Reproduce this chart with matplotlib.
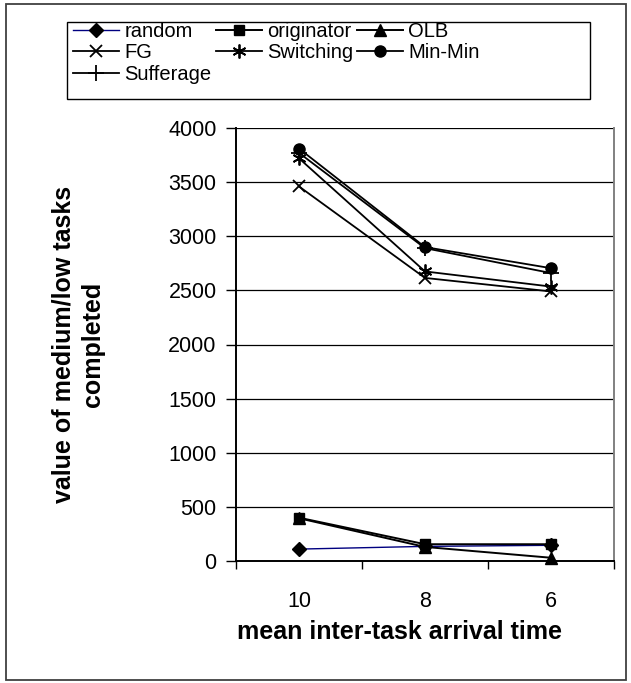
import matplotlib
matplotlib.use("Agg")
import matplotlib.pyplot as plt
from matplotlib.patches import Rectangle
from matplotlib.ticker import FixedLocator, NullFormatter

plt.rcParams['font.family'] = ['Liberation Sans', 'DejaVu Sans']

categories = ["10", "8", "6"]
series_names = ["random", "originator", "OLB", "FG", "Switching", "Min-Min", "Sufferage"]
random_vals = [110, 135, 145]
originator_vals = [400, 155, 155]
olb_vals = [395, 130, 30]
fg_vals = [3460, 2615, 2490]
switching_vals = [3720, 2675, 2535]
minmin_vals = [3810, 2900, 2705]
sufferage_vals = [3770, 2890, 2660]
yticks = [0, 500, 1000, 1500, 2000, 2500, 3000, 3500, 4000]

W, H = 631, 683
fig = plt.figure(figsize=(W / 100, H / 100), dpi=100)
ax = fig.add_axes([236 / W, 1 - 561 / H, (614 - 236) / W, (561 - 128) / H])

x = [1, 2, 3]
styles = {
    "random": dict(marker="D", color="#000080", mfc="black", mec="black", ms=7, lw=1.0),
    "originator": dict(marker="s", color="black", ms=7.5, lw=1.4),
    "OLB": dict(marker="^", color="black", ms=8, lw=1.4),
    "FG": dict(marker="x", color="black", ms=9, mew=1.3, lw=1.3),
    "Switching": dict(marker=(6, 2, 0), color="black", ms=10, mew=1.3, lw=1.3),
    "Min-Min": dict(marker="o", color="black", ms=8, lw=1.3),
    "Sufferage": dict(marker="+", color="black", ms=11, mew=1.3, lw=1.3),
}
data = {
    "random": random_vals,
    "originator": originator_vals,
    "OLB": olb_vals,
    "FG": fg_vals,
    "Switching": switching_vals,
    "Min-Min": minmin_vals,
    "Sufferage": sufferage_vals,
}
handles = {}
for name in series_names:
    (h,) = ax.plot(x, data[name], label=name, clip_on=False, **styles[name])
    handles[name] = h

ax.set_xlim(0.5, 3.5)
ax.set_ylim(0, 4000)
ax.set_yticks(yticks)
ax.set_yticklabels([str(v) for v in yticks])
ax.set_xticks(x)
ax.set_xticklabels(categories)
ax.xaxis.set_minor_locator(FixedLocator([0.5, 1.5, 2.5, 3.5]))
ax.xaxis.set_minor_formatter(NullFormatter())
ax.tick_params(axis="x", which="major", length=0, pad=21.5, labelsize=15.5)
ax.tick_params(axis="x", which="minor", length=6, width=1, direction="out", color="black")
ax.tick_params(axis="y", length=7, width=1, pad=7, labelsize=15.5, direction="out")

ax.grid(axis="y", color="black", lw=0.9)
ax.set_axisbelow(True)
for s in ["left", "bottom"]:
    ax.spines[s].set_color("black")
    ax.spines[s].set_linewidth(1.4)
ax.spines["top"].set_visible(False)
ax.spines["right"].set_color("#808080")
ax.spines["right"].set_linewidth(1.4)

ax.set_xlabel("mean inter-task arrival time", fontsize=18, fontweight="bold")
ax.xaxis.set_label_coords((400 - 236) / 378, (561 - 620) / 433)
ax.set_ylabel("value of medium/low tasks\ncompleted", fontsize=18, fontweight="bold",
              linespacing=1.3)
ax.yaxis.set_label_coords((105 - 236) / 378, 0.5)

order = ["random", "FG", "Sufferage", "originator", "Switching", "OLB", "Min-Min"]
fig.legend([handles[n] for n in order], order, loc="upper left",
           bbox_to_anchor=(73 / W, 1 - 22 / H), ncol=3, frameon=False,
           fontsize=14.5, borderpad=0, borderaxespad=0, labelspacing=0.12,
           handlelength=2.3, handletextpad=0.25, columnspacing=0.2)

fig.patches.append(Rectangle((67 / W, 1 - 99 / H), 523 / W, 77 / H, transform=fig.transFigure,
                             fill=False, edgecolor="black", lw=1.0))
fig.patches.append(Rectangle((6 / W, 1 - 680 / H), 620 / W, 676 / H, transform=fig.transFigure,
                             fill=False, edgecolor="#404040", lw=1.3))

fig.savefig("out.png", dpi=100)
